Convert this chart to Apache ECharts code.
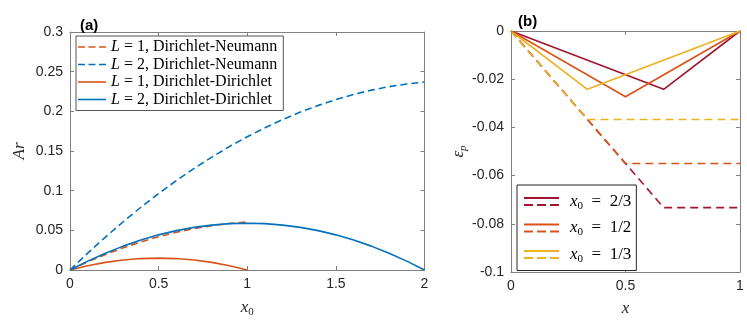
<!DOCTYPE html>
<html>
<head>
<meta charset="utf-8">
<script src="https://cdn.jsdelivr.net/npm/echarts@6/dist/echarts.min.js"></script>
<style>
  html, body { margin: 0; padding: 0; background: #fff; }
  #chart { width: 747px; height: 323px; }
</style>
</head>
<body>
<div id="chart"></div>
<script>
  // panel (a): Ar against x0
  const xL1 = [0, 0.1, 0.2, 0.3, 0.4, 0.5, 0.6, 0.7, 0.8, 0.9, 1]
  const xL2 = [0, 0.1, 0.2, 0.3, 0.4, 0.5, 0.6, 0.7, 0.8, 0.9, 1, 1.1, 1.2, 1.3, 1.4, 1.5, 1.6, 1.7, 1.8, 1.9, 2]
  const arL1DN = [0, 0.0103, 0.0196, 0.028, 0.0355, 0.042, 0.0476, 0.0522, 0.0559, 0.0587, 0.0605]
  const arL2DN = [0, 0.0213, 0.0415, 0.0608, 0.0791, 0.0964, 0.1127, 0.128, 0.1423, 0.1557, 0.168,
    0.1793, 0.1897, 0.1991, 0.2075, 0.2149, 0.2213, 0.2267, 0.2311, 0.2345, 0.237]
  const arL1DD = [0, 0.0054, 0.0096, 0.0126, 0.0144, 0.015, 0.0144, 0.0126, 0.0096, 0.0054, 0]
  const arL2DD = [0, 0.0112, 0.0212, 0.0301, 0.0378, 0.0443, 0.0496, 0.0537, 0.0566, 0.0584, 0.059,
    0.0584, 0.0566, 0.0537, 0.0496, 0.0443, 0.0378, 0.0301, 0.0212, 0.0112, 0]

  // panel (b): eps_p against x
  const x0Labels = ['2/3', '1/2', '1/3']
  const x0Vals = [0.6667, 0.5, 0.3333]
  const epSolidMin = [-0.0242, -0.0273, -0.0242]
  const epDashedFlat = [-0.0733, -0.055, -0.0367]

  const xTicksA = [0, 0.5, 1, 1.5, 2]
  const yTicksA = [0, 0.05, 0.1, 0.15, 0.2, 0.25, 0.3]
  const xTicksB = [0, 0.5, 1]
  const yTicksB = [-0.1, -0.08, -0.06, -0.04, -0.02, 0]

  const BLUE = '#0072BD'
  const ORANGE = '#D95319'
  const YELLOW = '#EDB120'
  const DARKRED = '#A2142F'
  const bColors = [DARKRED, ORANGE, YELLOW]

  const SERIF = '"Liberation Serif", "DejaVu Serif", serif'
  const SANS = '"Liberation Sans", Arial, sans-serif'
  const axisGray = '#808080'

  // legend icons drawn as filled paths (no marker dot)
  const ICON_SOLID = 'path://M0,0H28V1.6H0Z'
  const ICON_DASHED = 'path://M0,0H7V1.6H0Z M10.5,0H17.5V1.6H10.5Z M21,0H28V1.6H21Z'

  const zip = (xs, ys) => xs.map((x, i) => [x, ys[i]])

  function axis(pos, grid, min, max, interval, labels, extra) {
    return Object.assign({
      type: 'value',
      position: pos,
      gridIndex: grid,
      min: min,
      max: max,
      interval: interval,
      axisLine: { show: true, onZero: false, lineStyle: { color: axisGray, width: 1 } },
      axisTick: { show: true, inside: true, length: 4, lineStyle: { color: axisGray } },
      axisLabel: { show: labels, color: '#262626', fontFamily: SANS, fontSize: 14, margin: 7 },
      splitLine: { show: false }
    }, extra || {})
  }

  const lineA = (name, data, color, dashed) => ({
    name: name,
    type: 'line',
    xAxisIndex: 0,
    yAxisIndex: 0,
    data: data,
    symbol: 'none',
    silent: true,
    lineStyle: { color: color, width: 1.6, type: dashed ? [7, 4] : 'solid' },
    itemStyle: { color: color }
  })

  const seriesB = []
  x0Vals.forEach((x0, i) => {
    seriesB.push({
      name: 'x0 = ' + x0Labels[i],
      type: 'line',
      xAxisIndex: 2,
      yAxisIndex: 2,
      data: [[0, 0], [x0, epSolidMin[i]], [1, 0]],
      symbol: 'none',
      silent: true,
      lineStyle: { color: bColors[i], width: 1.6 },
      itemStyle: { color: bColors[i] }
    })
  })
  x0Vals.forEach((x0, i) => {
    seriesB.push({
      name: 'x0 = ' + x0Labels[i] + ' (dashed)',
      type: 'line',
      xAxisIndex: 2,
      yAxisIndex: 2,
      data: [[0, 0], [x0, epDashedFlat[i]], [1, epDashedFlat[i]]],
      symbol: 'none',
      silent: true,
      lineStyle: { color: bColors[i], width: 1.6, type: [8, 5] },
      itemStyle: { color: bColors[i] }
    })
  })

  const chart = echarts.init(document.getElementById('chart'))
  chart.setOption({
    animation: false,
    backgroundColor: '#fff',
    title: [
      { text: '(a)', left: 80, top: 18, padding: 0, textStyle: { fontFamily: SANS, fontSize: 15, fontWeight: 'bold', color: '#000' } },
      { text: '(b)', left: 518, top: 14, padding: 0, textStyle: { fontFamily: SANS, fontSize: 15, fontWeight: 'bold', color: '#000' } }
    ],
    grid: [
      { left: 70, right: 322.5, top: 32, bottom: 51 },
      { left: 511, right: 7, top: 31, bottom: 51 }
    ],
    xAxis: [
      axis('bottom', 0, xTicksA[0], xTicksA[xTicksA.length - 1], 0.5, true, {
        name: '{i|x}{s|0}', nameLocation: 'middle', nameGap: 28,
        nameTextStyle: { rich: {
          i: { fontFamily: SERIF, fontStyle: 'italic', fontSize: 17, color: '#262626', lineHeight: 20 },
          s: { fontFamily: SERIF, fontSize: 11, color: '#262626', lineHeight: 8, verticalAlign: 'bottom' }
        } }
      }),
      axis('top', 0, xTicksA[0], xTicksA[xTicksA.length - 1], 0.5, false),
      axis('bottom', 1, xTicksB[0], xTicksB[xTicksB.length - 1], 0.5, true, {
        name: 'x', nameLocation: 'middle', nameGap: 28,
        nameTextStyle: { fontFamily: SERIF, fontStyle: 'italic', fontSize: 17, color: '#262626' }
      }),
      axis('top', 1, xTicksB[0], xTicksB[xTicksB.length - 1], 0.5, false)
    ],
    yAxis: [
      axis('left', 0, yTicksA[0], yTicksA[yTicksA.length - 1], 0.05, true, {
        name: 'Ar', nameLocation: 'middle', nameRotate: 90, nameGap: 42,
        nameTextStyle: { fontFamily: SERIF, fontStyle: 'italic', fontSize: 17, color: '#262626' }
      }),
      axis('right', 0, yTicksA[0], yTicksA[yTicksA.length - 1], 0.05, false),
      axis('left', 1, yTicksB[0], yTicksB[yTicksB.length - 1], 0.02, true, {
        name: '{i|ε}{s|p}', nameLocation: 'middle', nameRotate: 90, nameGap: 42,
        nameTextStyle: { rich: {
          i: { fontFamily: SERIF, fontStyle: 'italic', fontSize: 17, color: '#262626', lineHeight: 20 },
          s: { fontFamily: SERIF, fontStyle: 'italic', fontSize: 11, color: '#262626', lineHeight: 8, verticalAlign: 'bottom' }
        } }
      }),
      axis('right', 1, yTicksB[0], yTicksB[yTicksB.length - 1], 0.02, false)
    ],
    legend: [
      {
        orient: 'vertical',
        left: 76,
        top: 36,
        padding: [3, 6, 3, 2],
        itemGap: 1.5,
        itemWidth: 28,
        itemHeight: 12,
        borderColor: '#555',
        borderWidth: 1,
        backgroundColor: '#fff',
        selectedMode: false,
        data: [
          { name: 'L = 1, Dirichlet-Neumann', icon: ICON_DASHED },
          { name: 'L = 2, Dirichlet-Neumann', icon: ICON_DASHED },
          { name: 'L = 1, Dirichlet-Dirichlet', icon: ICON_SOLID },
          { name: 'L = 2, Dirichlet-Dirichlet', icon: ICON_SOLID }
        ],
        formatter: name => '{i|L}{t|' + name.slice(1) + '}',
        textStyle: {
          rich: {
            i: { fontFamily: SERIF, fontStyle: 'italic', fontSize: 16, color: '#000', lineHeight: 16 },
            t: { fontFamily: SERIF, fontSize: 16, color: '#000', lineHeight: 16 }
          }
        }
      },
      {
        orient: 'vertical',
        left: 517,
        top: 185,
        padding: [8, 5, 6, 7],
        itemGap: 8,
        itemWidth: 35,
        itemHeight: 9,
        borderColor: '#262626',
        borderWidth: 1,
        backgroundColor: '#fff',
        selectedMode: false,
        icon: 'path://M0,0H35V2H0Z M0,7H9V9H0Z M13,7H22V9H13Z M26,7H35V9H26Z',
        data: x0Labels.map(l => 'x0 = ' + l),
        formatter: name => '{i|x}{s|0}{t|\u2002=\u2002' + name.slice(5) + '}',
        textStyle: {
          rich: {
            i: { fontFamily: SERIF, fontStyle: 'italic', fontSize: 17, color: '#000', lineHeight: 20, padding: [0, 0, 0, 6] },
            s: { fontFamily: SERIF, fontSize: 11, color: '#000', lineHeight: 8, verticalAlign: 'bottom' },
            t: { fontFamily: SERIF, fontSize: 17, color: '#000', lineHeight: 20 }
          }
        }
      }
    ],
    series: [
      lineA('L = 1, Dirichlet-Neumann', zip(xL1, arL1DN), ORANGE, true),
      lineA('L = 2, Dirichlet-Neumann', zip(xL2, arL2DN), BLUE, true),
      lineA('L = 1, Dirichlet-Dirichlet', zip(xL1, arL1DD), ORANGE, false),
      lineA('L = 2, Dirichlet-Dirichlet', zip(xL2, arL2DD), BLUE, false)
    ].concat(seriesB)
  })
</script>
</body>
</html>
